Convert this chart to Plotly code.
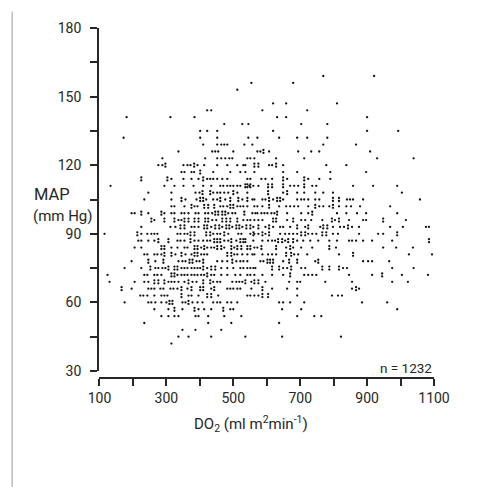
import plotly.graph_objects as go

# MAP rows (mm Hg) with DO2 readings; "stacked" readings show two points close together in a row
map_rows = [159,156,153,147,144,141,138,135,132,129,126,123,120,117,114,111,108,105,102,99,96,93,90,87,84,81,78,75,72,69,66,63,60,57,54,51,48,45,42]
do2_single = [
 [769,921],
 [554,679],
 [512],
 [619,658,810],
 [422,434,587,721],
 [181,312,384,631,658,900],
 [473,527,545,703,781],
 [401,422,452,619,900,993],
 [172,401,452,545,572,637,691,721,781],
 [410,452,464,473,482,533,557,769,867],
 [336,437,446,455,500,572,581,607,694,733,757,909],
 [288,416,452,464,476,488,497,542,551,563,628,712,930,1039],
 [276,288,351,363,372,393,413,452,482,512,530,536,607,616,649,778,838],
 [345,354,375,383,440,491,521,536,563,649,691,790,897],
 [315,351,375,396,422,431,440,452,467,482,542,551,584,596,616,661,724,757,790],
 [133,294,324,351,381,410,434,461,470,482,491,500,512,521,548,560,575,670,682,694,736,748,858,918,990],
 [246,315,387,399,440,452,461,473,485,512,542,649,691,712,745,769,798,1004],
 [234,315,357,390,419,440,452,476,527,557,563,587,596,619,649,691,703,712,724,745,757,840,849,858,888,1058],
 [315,324,354,384,393,461,470,482,512,521,530,542,563,572,587,637,658,670,682,694,724,757,769,787,816,838,852,879,969],
 [196,205,246,294,315,324,345,354,366,387,396,416,425,437,485,497,506,557,566,572,584,593,602,614,623,661,703,724,810,838,870,897,990],
 [264,336,345,437,449,530,542,551,563,575,587,661,703,715,733,766,804,846,888,897,1016],
 [225,312,327,375,384,396,434,467,497,527,560,596,619,640,649,670,715,760,798,819,831,855,876,969,1007,1076,1085],
 [115,225,243,255,264,273,333,342,354,363,440,452,461,485,515,524,551,563,575,596,640,655,667,679,691,724,736,748,798,813,876,933,948],
 [216,225,246,264,333,342,354,384,396,410,422,431,473,485,509,560,587,604,616,625,655,691,709,730,754,787,810,846,855,867,888,915,975],
 [205,225,315,333,354,363,404,422,434,443,473,503,563,572,658,679,703,736,807,948,987,1037],
 [234,243,264,273,285,327,357,375,404,413,422,503,512,527,542,557,563,587,604,616,628,682,694,721,816,1025,1094],
 [196,267,336,348,357,390,399,452,467,482,509,521,530,542,581,590,649,745,888,903,915,966],
 [175,225,267,276,288,297,345,354,363,375,384,393,401,422,464,482,500,521,530,542,551,560,566,649,661,703,715,828,840,975,1039],
 [124,234,243,264,273,285,333,345,354,363,375,384,393,404,413,434,443,464,482,506,521,542,551,563,587,616,649,712,724,736,748,846,915,1004,1082],
 [130,205,234,246,306,315,324,336,354,378,390,440,452,461,497,509,518,527,554,596,667,691,700,775,855,975,1022],
 [196,246,255,264,282,291,312,321,333,363,434,482,491,500,512,521,554,616,661,691,855,876],
 [222,231,243,264,285,294,303,366,375,396,455,542,551,563,575,691,795,813,825],
 [175,246,255,267,285,300,348,357,378,393,408,440,452,461,482,494,512,637,649,670,712,885,960],
 [264,306,348,396,413,434,491,500,646,703,990],
 [285,306,324,336,387,396,425,473,524,691,742,763],
 [234,425,494,637],
 [348,387,464],
 [336,366,434,536,646,822],
 [315],
]
do2_stacked = [
 [],[],[],[],[],[],[],[],[],[],
 [590],
 [],
 [297,383,563,575,628],
 [401],
 [225,303,410,649,712],
 [536,542,551,604,616,649,712],
 [408,431,500,604,661],
 [345,401,410,461,491,515,542,607,631,640,798,816],
 [375,413,425,443,491,500,607,745,798],
 [225,285,446,455,467,476,533,631,736],
 [255,294,324,354,366,384,396,416,425,467,479,491,512,619,628,679,795,816,948],
 [342,354,413,422,446,458,479,488,509,518,539,551,575,607,691,724,769,781,843],
 [213,372,384,419,431,473,560,587,607,703,715,766,778,990],
 [276,306,372,443,452,461,494,521,530,536,634,646,664,679,1085],
 [285,294,384,393,413,452,464,494,512,524,542,551,584,628,670,787],
 [294,315,345,384,393,482,494,658,673,858],
 [246,291,369,378,410,497,602,610,619,667,691,754],
 [252,306,324,333,410,434,446,616,637,673,766,787,816],
 [315,324,422,670,945],
 [264,276,294,366,410,431,536,563,575],
 [166,345,375,401,410,443,587,867],
 [345,422,434,587,604],
 [309,318,366],
 [324,384,470],
 [],[],[],[],[],
]

x_ticks = [100,300,500,700,900,1100]
y_ticks = [30,60,90,120,150,180]
x_title = "DO<sub>2</sub> (ml m<sup>2</sup>min<sup>-1</sup>)"
y_title_lines = ["MAP", "(mm Hg)"]
n_label = "n = 1232"

xs, ys = [], []
for m, row in zip(map_rows, do2_single):
    for v in row:
        xs.append(v); ys.append(m)
for m, row in zip(map_rows, do2_stacked):
    for v in row:
        xs.extend([v, v]); ys.extend([m + 0.65, m - 0.65])

W, H = 485, 487
L, R, T, B = 97.5, 51, 27.5, 109
pw, ph = W - L - R, H - T - B
ink = "#262626"
FONT = "Roboto, Inter, Arial, sans-serif"

fig = go.Figure(go.Scatter(x=xs, y=ys, mode="markers", hoverinfo="skip",
                           marker=dict(color="#111111", size=2.3, line=dict(width=0))))
fig.update_layout(
    width=W, height=H, autosize=False, showlegend=False,
    margin=dict(l=L, r=R, t=T, b=B, pad=0),
    paper_bgcolor="white", plot_bgcolor="white",
    font=dict(family=FONT, color=ink, size=14),
    xaxis=dict(domain=[1.5 / pw, 1], range=[100, 1100], anchor="free", position=0,
               tickmode="array", tickvals=x_ticks, ticks="outside", ticklen=7, tickwidth=1.5,
               tickcolor=ink, showline=True, linecolor=ink, linewidth=1.5, showgrid=False,
               zeroline=False, ticklabelstandoff=0,
               minor=dict(ticks="outside", tick0=100, dtick=100, ticklen=7, tickwidth=1.5,
                          tickcolor=ink, showgrid=False)),
    yaxis=dict(domain=[7 / ph, 1], range=[30, 180], anchor="free", position=0,
               tickmode="array", tickvals=y_ticks, ticks="outside", ticklen=7, tickwidth=1.5,
               tickcolor=ink, showline=True, linecolor=ink, linewidth=1.8, showgrid=False,
               zeroline=False, ticklabelstandoff=6,
               minor=dict(ticks="outside", tick0=30, dtick=15, ticklen=7, tickwidth=1.5,
                          tickcolor=ink, showgrid=False)),
    annotations=[
        dict(text=y_title_lines[0], xref="paper", yref="paper", x=(51 - L) / pw, y=(H - B - 194) / ph,
             showarrow=False, font=dict(size=16.5), xanchor="center", yanchor="middle"),
        dict(text=y_title_lines[1], xref="paper", yref="paper", x=(62 - L) / pw, y=(H - B - 216) / ph,
             showarrow=False, font=dict(size=15), xanchor="center", yanchor="middle"),
        dict(text=x_title, xref="paper", yref="paper", x=(251 - L) / pw, y=(H - B - 424) / ph,
             showarrow=False, font=dict(size=15), xanchor="center", yanchor="middle"),
        dict(text=n_label, xref="paper", yref="paper", x=(434 - L) / pw, y=(H - B - 368) / ph,
             showarrow=False, font=dict(size=13.5), xanchor="right", yanchor="middle"),
    ],
    shapes=[dict(type="line", xref="paper", yref="paper",
                 x0=(11.5 - L) / pw, x1=(11.5 - L) / pw, y0=(H - B - 487) / ph, y1=(H - B - 11) / ph,
                 line=dict(color="#9a9a9a", width=1))],
)
fig.write_html("out.html", config={"displayModeBar": False},
               post_script="document.body.style.margin='0';document.body.style.overflow='hidden';")
